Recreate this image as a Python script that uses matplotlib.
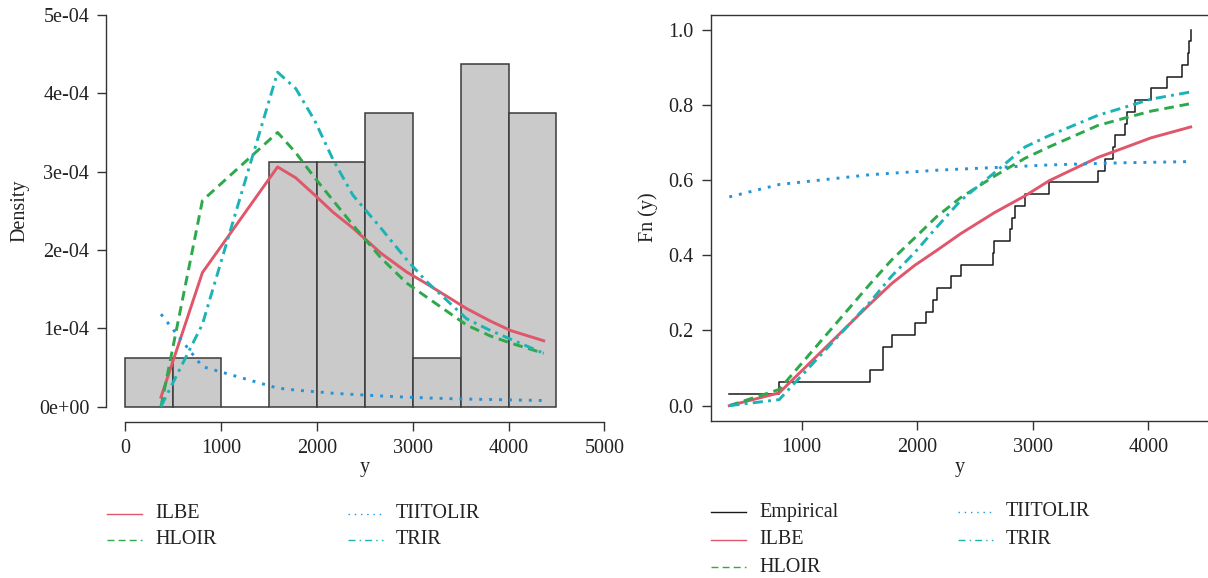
import matplotlib
matplotlib.use("Agg")
import matplotlib.pyplot as plt
from matplotlib.lines import Line2D
import numpy as np

plt.rcParams['font.family'] = ['Liberation Serif', 'DejaVu Serif']
plt.rcParams['font.size'] = 14.5

# sample (read from the empirical cdf steps)
y_sample = [373, 805, 1590, 1703, 1703, 1780, 1978, 2078, 2136, 2170, 2292,
            2375, 2654, 2667, 2807, 2823, 2846, 2934, 3142, 3564, 3629, 3694,
            3712, 3798, 3813, 3885, 4023, 4159, 4294, 4346, 4355, 4367]
hist_edges = [0, 500, 1000, 1500, 2000, 2500, 3000, 3500, 4000, 4500]

# points where the fitted curves are drawn
y_grid = [373, 805, 1590, 1780, 1978, 2170, 2375, 2667, 2934, 3142, 3564, 3813, 4023, 4367]

# fitted densities (x 1e-4)
pdf_ilbe = [0.12, 1.71, 3.06, 2.92, 2.70, 2.48, 2.28, 1.96, 1.72, 1.57, 1.25, 1.09, 0.97, 0.84]
pdf_hloir = [0.0, 2.63, 3.50, 3.24, 2.92, 2.63, 2.32, 1.90, 1.58, 1.40, 1.04, 0.90, 0.81, 0.68]
pdf_tiitolir = [1.18, 0.51, 0.235, 0.21, 0.19, 0.17, 0.155, 0.135, 0.12, 0.11, 0.095, 0.09, 0.085, 0.077]
pdf_trir = [0.0, 1.05, 4.27, 4.06, 3.65, 3.15, 2.70, 2.28, 1.88, 1.60, 1.12, 0.97, 0.86, 0.68]

# fitted cdfs
cdf_ilbe = [0.0, 0.034, 0.270, 0.325, 0.373, 0.413, 0.457, 0.513, 0.558, 0.598, 0.660, 0.688, 0.712, 0.741]
cdf_hloir = [0.0, 0.043, 0.323, 0.388, 0.446, 0.503, 0.553, 0.610, 0.658, 0.688, 0.745, 0.766, 0.783, 0.803]
cdf_tiitolir = [0.555, 0.588, 0.614, 0.618, 0.622, 0.626, 0.629, 0.633, 0.637, 0.640, 0.644, 0.646, 0.647, 0.649]
cdf_trir = [0.0, 0.016, 0.275, 0.345, 0.407, 0.475, 0.545, 0.619, 0.688, 0.718, 0.772, 0.795, 0.815, 0.834]

dens_ticks = [0, 1e-4, 2e-4, 3e-4, 4e-4, 5e-4]
dens_labels = ['0e+00', '1e-04', '2e-04', '3e-04', '4e-04', '5e-04']
x1_ticks = [0, 1000, 2000, 3000, 4000, 5000]
x2_ticks = [1000, 2000, 3000, 4000]
fn_ticks = [0.0, 0.2, 0.4, 0.6, 0.8, 1.0]

c_red = '#E0566A'
c_green = '#2DA84B'
c_blue = '#2494DA'
c_teal = '#1CB3B6'
c_black = '#1a1a1a'
txt = '#222222'

st = {
    'ILBE': dict(color=c_red, ls='-'),
    'HLOIR': dict(color=c_green, ls=(0, (3.3, 2.0))),
    'TIITOLIR': dict(color=c_blue, ls=(0, (1.0, 2.4))),
    'TRIR': dict(color=c_teal, ls=(0, (3.5, 1.8, 1.0, 1.8))),
}
leg_st = {
    'Empirical': dict(color=c_black, ls='-'),
    'ILBE': dict(color=c_red, ls='-'),
    'HLOIR': dict(color=c_green, ls=(0, (5, 3))),
    'TIITOLIR': dict(color=c_blue, ls=(0, (1, 3.5))),
    'TRIR': dict(color=c_teal, ls=(0, (5, 3, 1, 3))),
}

W, H = 1208, 578
fig = plt.figure(figsize=(W / 100, H / 100), dpi=100)

def px_axes(l, t, r, b):
    return fig.add_axes([l / W, 1 - b / H, (r - l) / W, (b - t) / H])

# ---- left: histogram + densities
ax1 = px_axes(106.1, -0.66, 623.5, 422.2)
ax1.hist(y_sample, bins=hist_edges, density=True, color='#C9CAC9',
         edgecolor='#3a3a3a', linewidth=1.1)
ys = np.array([pdf_ilbe, pdf_hloir, pdf_tiitolir, pdf_trir]) * 1e-4
for name, yy in zip(['ILBE', 'HLOIR', 'TIITOLIR', 'TRIR'], ys):
    ax1.plot(y_grid, yy, lw=2.1, **st[name])
ax1.set_xlim(-200, 5200)
ax1.set_ylim(-2e-5, 5.2e-4)
ax1.set_xticks(x1_ticks)
ax1.set_yticks(dens_ticks, dens_labels)
for s in ['top', 'right']:
    ax1.spines[s].set_visible(False)
ax1.spines['left'].set_bounds(0, 5e-4)
ax1.spines['bottom'].set_bounds(0, 5000)
ax1.set_ylabel('Density', color=txt)
ax1.yaxis.set_label_coords(-0.149, 0.5)
ax1.set_xlabel('y', color=txt)
ax1.xaxis.label.set_va('baseline')
ax1.xaxis.set_label_coords(0.5, -0.1182)

# ---- right: empirical cdf + fitted cdfs
ax2 = px_axes(710.8, 14.5, 1208.7, 420.7)
fn = np.arange(1, len(y_sample) + 1) / len(y_sample)
ax2.step(y_sample, fn, where='post', color=c_black, lw=1.1)
cs = [cdf_ilbe, cdf_hloir, cdf_tiitolir, cdf_trir]
for name, yy in zip(['ILBE', 'HLOIR', 'TIITOLIR', 'TRIR'], cs):
    ax2.plot(y_grid, yy, lw=2.1, **st[name])
ax2.set_xlim(213, 4523)
ax2.set_ylim(-0.04, 1.04)
ax2.set_xticks(x2_ticks)
ax2.set_yticks(fn_ticks, ['%.1f' % v for v in fn_ticks])
ax2.set_ylabel('Fn (y)', color=txt)
ax2.yaxis.set_label_coords(-0.106, 0.5)
ax2.set_xlabel('y', color=txt)
ax2.xaxis.label.set_va('baseline')
ax2.xaxis.set_label_coords(0.5, -0.1268)

for ax in (ax1, ax2):
    ax.tick_params(direction='out', length=6.2, width=1.0, color='#333333',
                   labelcolor=txt, labelsize=14.5)
    ax.tick_params(axis='x', pad=6.0)
    ax.tick_params(axis='y', pad=6.0)
    for s in ax.spines.values():
        s.set_color('#333333')
        s.set_linewidth(1.0)

# ---- legends below each panel
def legend_col(x0, ys_px, names):
    for name, yp in zip(names, ys_px):
        fig.add_artist(Line2D([x0 / W, (x0 + 35) / W], [1 - yp / H, 1 - yp / H],
                              lw=1.0, transform=fig.transFigure, **leg_st[name]))
        fig.text((x0 + 48) / W, 1 - yp / H, name, va='center', ha='left',
                 fontsize=14.5, color=txt)

legend_col(107, [514, 540], ['ILBE', 'HLOIR'])
legend_col(348, [514, 540], ['TIITOLIR', 'TRIR'])
legend_col(711, [512, 540, 567], ['Empirical', 'ILBE', 'HLOIR'])
legend_col(958, [512, 540], ['TIITOLIR', 'TRIR'])

fig.savefig('out.png', dpi=100)
